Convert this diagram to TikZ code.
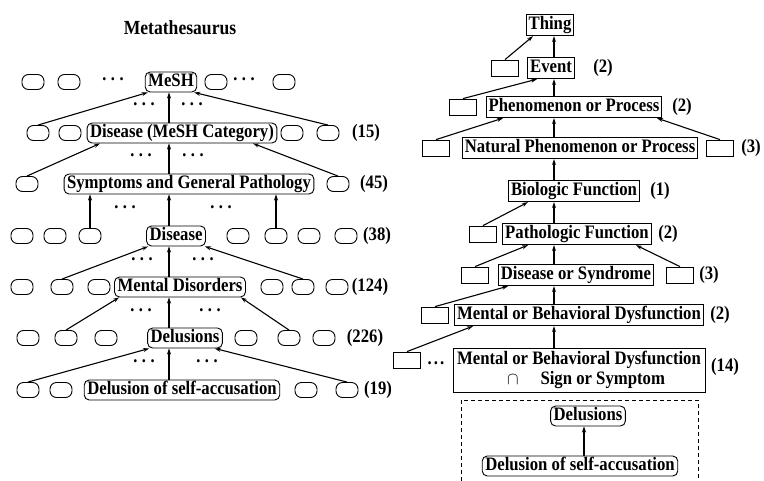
\documentclass[tikz,border=0pt]{standalone}
\usepackage{fontspec}
\setmainfont{Liberation Serif}[FakeStretch=0.88]
\usetikzlibrary{arrows.meta,calc}
\newcommand{\mydots}{·\hspace{3pt}·\hspace{3pt}·}
\begin{document}
\begin{tikzpicture}[x=1pt,y=-1pt,
  font=\fontsize{19}{19.5}\selectfont\bfseries,
  rbox/.style={draw,line width=0.9pt,rounded corners=5pt,inner xsep=3pt,inner ysep=1.5pt,text height=13pt,text depth=4pt},
  oval/.style={draw,line width=0.9pt,rounded corners=6.5pt,minimum width=22pt,minimum height=15pt,inner sep=0pt},
  sbox/.style={draw,line width=0.9pt,inner xsep=2.5pt,inner ysep=2.2pt,text height=13pt,text depth=4pt},
  ebox/.style={draw,line width=0.8pt,minimum width=27pt,minimum height=16pt,inner sep=0pt},
  lbl/.style={inner sep=0pt},
  dts/.style={inner sep=0pt},
  arr/.style={line width=1.1pt,-{Stealth[length=6pt,width=4pt]}},
]
\useasboundingbox (0,0) rectangle (764,480);
\coordinate (sL) at (169,0);
\coordinate (sR) at (554,0);

% ---------- left: Metathesaurus ----------
\node[lbl,font=\fontsize{20}{20}\selectfont\bfseries] (title) at (180,28) {Metathesaurus};

% row 1
\node[oval] (a1) at (33,82) {};
\node[oval] (a2) at (69,82) {};
\node[dts] (a3) at (113,82) {\mydots};
\node[rbox] (mesh) at (171,82) {MeSH};
\node[oval] (a4) at (216,82) {};
\node[dts] (a5) at (244,82) {\mydots};
\node[oval] (a6) at (284,82) {};

\node[dts] (da1) at (144,107) {\mydots};
\node[dts] (da2) at (192,107) {\mydots};

% row 2
\node[oval] (b1) at (38,133) {};
\node[oval] (b2) at (70,133) {};
\node[rbox] (dmc) at (182,133) {Disease (MeSH Category)};
\node[oval] (b3) at (292,133) {};
\node[oval] (b4) at (328,133) {};
\node[lbl] (b5) at (366,133) {(15)};

\draw[arr] (b1.north) -- ($(mesh.south west)+(3,0)$);
\draw[arr] (dmc.north -| sL) -- (mesh.south -| sL);
\draw[arr] (b4.north) -- ($(mesh.south east)+(-3,0)$);

\node[dts] (db1) at (141,158) {\mydots};
\node[dts] (db2) at (193,158) {\mydots};

% row 3
\node[oval] (c1) at (27,184) {};
\node[rbox] (sym) at (189,184) {Symptoms and General Pathology};
\node[oval] (c2) at (338,184) {};
\node[lbl] (c3) at (374,184) {(45)};

\draw[arr] (c1.north) -- ($(dmc.south)+(-82,0)$);
\draw[arr] (sym.north -| sL) -- (dmc.south -| sL);
\draw[arr] (c2.north) -- ($(dmc.south)+(71,0)$);

\node[dts] (dc1) at (125,210) {\mydots};
\node[dts] (dc2) at (221,210) {\mydots};

% row 4
\node[oval] (d1) at (22,236) {};
\node[oval] (d2) at (55,236) {};
\node[oval] (d3) at (90,236) {};
\node[rbox] (dis) at (176,236) {Disease};
\node[oval] (d4) at (238,236) {};
\node[oval] (d5) at (276,236) {};
\node[oval] (d6) at (309,236) {};
\node[oval] (d7) at (346,236) {};
\node[lbl] (d8) at (377,236) {(38)};

\draw[arr] (d3.north) -- (d3.north |- sym.south);
\draw[arr] (dis.north -| sL) -- (sym.south -| sL);
\draw[arr] (d5.north) -- (d5.north |- sym.south);

\node[dts] (dd1) at (142,262) {\mydots};
\node[dts] (dd2) at (203,262) {\mydots};

% row 5
\node[oval] (e1) at (22,287) {};
\node[oval] (e2) at (62,287) {};
\node[oval] (e3) at (99,287) {};
\node[rbox] (md) at (180,287) {Mental Disorders};
\node[oval] (e4) at (272,287) {};
\node[oval] (e5) at (303,287) {};
\node[oval] (e6) at (337,287) {};
\node[lbl] (e7) at (370,287) {(124)};

\draw[arr] (e2.north) -- ($(dis.south west)+(2,0)$);
\draw[arr] (md.north -| sL) -- (dis.south -| sL);
\draw[arr] (e5.north) -- ($(dis.south east)+(-1,0)$);

\node[dts] (de1) at (141,313) {\mydots};
\node[dts] (de2) at (210,313) {\mydots};

% row 6
\node[oval] (f1) at (28,338) {};
\node[oval] (f2) at (66,338) {};
\node[oval] (f3) at (106,338) {};
\node[rbox] (del) at (185,338) {Delusions};
\node[oval] (f4) at (246,338) {};
\node[oval] (f5) at (289,338) {};
\node[oval] (f6) at (324,338) {};
\node[lbl] (f7) at (365,338) {(226)};

\draw[arr] (f2.north) -- ($(md.south west)+(5,0)$);
\draw[arr] (del.north -| sL) -- (md.south -| sL);
\draw[arr] (f5.north) -- ($(md.south east)+(-5,0)$);

\node[dts] (df1) at (144,364) {\mydots};
\node[dts] (df2) at (207,364) {\mydots};

% row 7
\node[oval] (g1) at (28,390) {};
\node[oval] (g2) at (61,390) {};
\node[rbox] (dsa) at (182,390) {Delusion of self-accusation};
\node[oval] (g3) at (306,390) {};
\node[oval] (g4) at (347,390) {};
\node[lbl] (g5) at (378,390) {(19)};

\draw[arr] (g1.north) -- ($(del.south west)+(2,0)$);
\draw[arr] (dsa.north -| sL) -- (del.south -| sL);
\draw[arr] (g4.north) -- ($(del.south east)+(-8,0)$);

% ---------- right: semantic network ----------
\node[sbox] (thing) at (550,25) {Thing};

\node[ebox] (h1) at (505,68) {};
\node[sbox] (event) at (551,68) {Event};
\node[lbl] (l1) at (603,68) {(2)};
\draw[arr] (h1.north) -- ($(thing.south)+(-17,0)$);
\draw[arr] (event.north -| sR) -- (thing.south -| sR);

\node[ebox] (h2) at (463,107) {};
\node[sbox] (phen) at (574,107) {Phenomenon or Process};
\node[lbl] (l2) at (682,107) {(2)};
\draw[arr] (h2.north) -- ($(event.south)+(-14,0)$);
\draw[arr] (phen.north -| sR) -- (event.south -| sR);

\node[ebox] (h3) at (436,148) {};
\node[sbox] (nat) at (580,148) {Natural Phenomenon or Process};
\node[ebox] (h4) at (720,148) {};
\node[lbl] (l3) at (751,148) {(3)};
\draw[arr] (h3.north) -- ($(phen.south)+(-71,0)$);
\draw[arr] (nat.north -| sR) -- (phen.south -| sR);
\draw[arr] (h4.north) -- ($(phen.south)+(83,0)$);

\node[sbox] (bio) at (574,191) {Biologic Function};
\node[lbl] (l4) at (660,191) {(1)};
\draw[arr] (bio.north -| sR) -- (nat.south -| sR);

\node[ebox] (h5) at (483,234) {};
\node[sbox] (pat) at (577,234) {Pathologic Function};
\node[lbl] (l5) at (668,234) {(2)};
\draw[arr] (h5.north) -- ($(bio.south)+(-46,0)$);
\draw[arr] (pat.north -| sR) -- (bio.south -| sR);

\node[ebox] (h6) at (475,275) {};
\node[sbox] (dos) at (576,275) {Disease or Syndrome};
\node[ebox] (h7) at (680,275) {};
\node[lbl] (l6) at (709,275) {(3)};
\draw[arr] (h6.north) -- ($(pat.south)+(-49,0)$);
\draw[arr] (dos.north -| sR) -- (pat.south -| sR);
\draw[arr] (h7.north) -- ($(pat.south)+(59,0)$);

\node[ebox] (h8) at (435,315) {};
\node[sbox] (mbd) at (579,315) {Mental or Behavioral Dysfunction};
\node[lbl] (l7) at (720,315) {(2)};
\draw[arr] (h8.north) -- ($(dos.south)+(-68,0)$);
\draw[arr] (mbd.north -| sR) -- (dos.south -| sR);

\node[ebox] (h9) at (407,360) {};
\node[dts] (h9d) at (436,363) {.\hspace{2pt}.\hspace{2pt}.};
\node[draw,line width=0.9pt,minimum width=252pt,minimum height=44pt,inner sep=2pt,align=center,
  font=\fontsize{19}{20.5}\selectfont\bfseries] (mbdss) at (579,370)
  {Mental or Behavioral Dysfunction\\\hspace*{14pt}$\cap$\hspace{22pt}Sign or Symptom};
\node[lbl] (l8) at (725,367) {(14)};
\draw[arr] (h9.north) -- ($(mbd.south)+(-106,0)$);
\draw[arr] (mbdss.north -| sR) -- (mbd.south -| sR);

\draw[line width=0.8pt,dash pattern=on 4pt off 3pt] (461,481) -- (461,400) -- (698,400) -- (698,481);
\node[rbox] (dl) at (588,416) {Delusions};
\node[rbox] (dsa2) at (580,466) {Delusion of self-accusation};
\coordinate (sD) at (584,0);
\draw[arr] (dsa2.north -| sD) -- (dl.south -| sD);
\end{tikzpicture}
\end{document}
